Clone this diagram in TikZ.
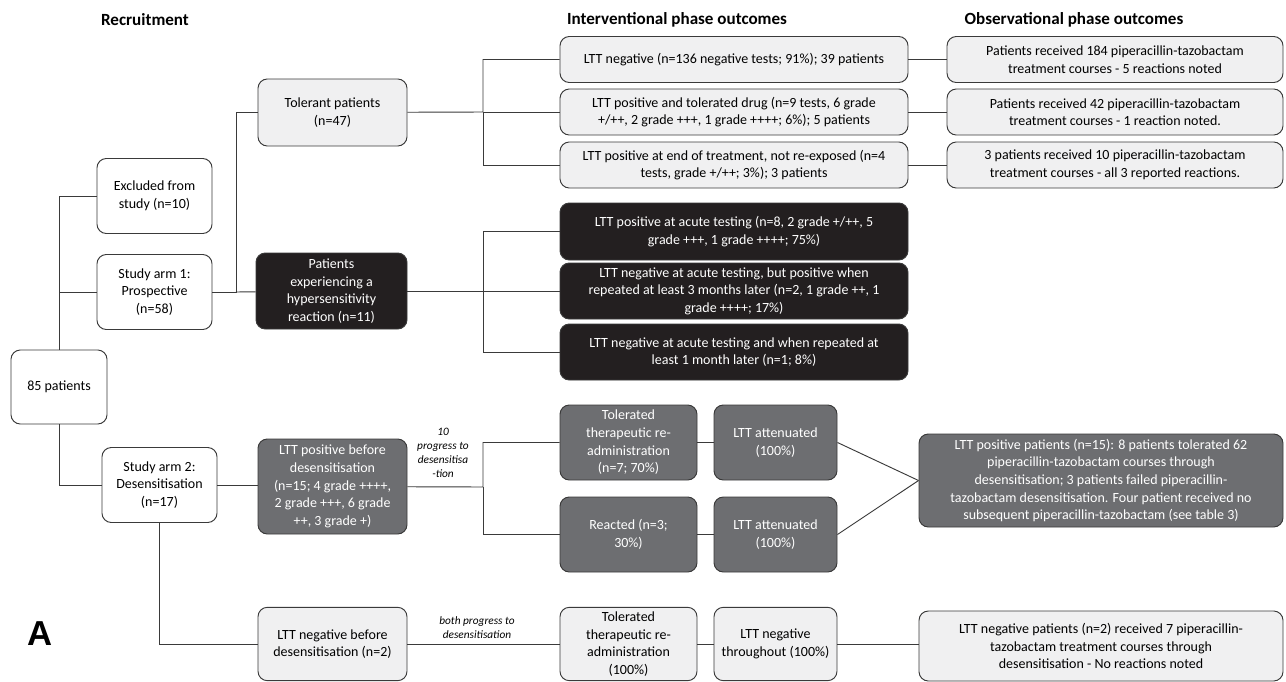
\documentclass[tikz,border=0pt]{standalone}
\usepackage{fontspec}
\setmainfont{Carlito}
\newfontfamily\letterfont{Liberation Sans}
\usetikzlibrary{positioning}

\definecolor{edgegrey}{HTML}{3A3A3A}
\definecolor{paleFill}{HTML}{F0F0F1}
\definecolor{darkFill}{HTML}{231F20}
\definecolor{midFill}{HTML}{6D6E71}

\begin{document}
\begin{tikzpicture}[
  x=0.75pt, y=-0.75pt,
  line width=0.7pt,
  box/.style={draw=edgegrey, rounded corners=7pt, align=center, inner sep=2pt,
    font=\fontsize{10.5pt}{13.2pt}\selectfont},
  whitebox/.style={box, fill=white},
  palebox/.style={box, fill=paleFill},
  darkbox/.style={box, fill=darkFill, text=white},
  midbox/.style={box, fill=midFill, text=white},
  head/.style={font=\fontsize{12.8pt}{15pt}\selectfont\bfseries},
  note/.style={align=center, font=\fontsize{8.5pt}{10.5pt}\selectfont\itshape},
  link/.style={draw=edgegrey}
]
  \useasboundingbox (0,0) rectangle (1286,682);

  % Column titles
  \node[head] (hrec) at (145,20) {Recruitment};
  \node[head] (hint) at (677,20) {Interventional phase outcomes};
  \node[head] (hobs) at (1074,20) {Observational phase outcomes};

  % Recruitment
  \node[whitebox, minimum width=72pt, minimum height=55.5pt] (all) at (59,387) {85 patients};
  \node[whitebox, minimum width=86.25pt, minimum height=56.25pt] (excl) at (154.5,196) {Excluded from\\study (n=10)};
  \node[whitebox, minimum width=86.25pt, minimum height=56.25pt] (arm1) at (154.5,292) {Study arm 1:\\Prospective\\(n=58)};
  \node[whitebox, minimum width=86.25pt, minimum height=56.25pt] (arm2) at (159.5,485) {Study arm 2:\\Desensitisation\\(n=17)};

  % Arm 1 split
  \node[palebox, minimum width=111.75pt, minimum height=50.25pt] (tol) at (332.5,112.5) {Tolerant patients\\(n=47)};
  \node[darkbox, minimum width=113.25pt, minimum height=57pt] (hyp) at (331.5,291) {Patients\\experiencing a\\hypersensitivity\\reaction (n=11)};

  % Tolerant outcomes
  \node[palebox, minimum width=261pt, minimum height=34.5pt] (tneg) at (734,59.5) {LTT negative (n=136 negative tests; 91\%); 39 patients};
  \node[palebox, minimum width=261pt, minimum height=34.5pt] (tpos) at (734,112) {LTT positive and tolerated drug (n=9 tests, 6 grade\\+/++, 2 grade +++, 1 grade ++++; 6\%); 5 patients};
  \node[palebox, minimum width=261pt, minimum height=34.5pt] (tend) at (734,165) {LTT positive at end of treatment, not re-exposed (n=4\\tests, grade +/++; 3\%); 3 patients};

  % Observational outcomes
  \node[palebox, minimum width=252pt, minimum height=34.5pt] (oneg) at (1115,59.5) {Patients received 184 piperacillin-tazobactam\\treatment courses - 5 reactions noted};
  \node[palebox, minimum width=252pt, minimum height=34.5pt] (opos) at (1115,112) {Patients received 42 piperacillin-tazobactam\\treatment courses - 1 reaction noted.};
  \node[palebox, minimum width=252pt, minimum height=34.5pt] (oend) at (1115,165) {3 patients received 10 piperacillin-tazobactam\\treatment courses - all 3 reported reactions.};

  % Hypersensitivity outcomes
  \node[darkbox, minimum width=261pt, minimum height=42.75pt] (hacu) at (734,231.5) {LTT positive at acute testing (n=8, 2 grade +/++, 5\\grade +++, 1 grade ++++; 75\%)};
  \node[darkbox, minimum width=261pt, minimum height=42pt] (hlate) at (734,291) {LTT negative at acute testing, but positive when\\repeated at least 3 months later (n=2, 1 grade ++, 1\\grade ++++; 17\%)};
  \node[darkbox, minimum width=261pt, minimum height=42pt] (hnone) at (734,352) {LTT negative at acute testing and when repeated at\\least 1 month later (n=1; 8\%)};

  % Arm 2 split
  \node[midbox, minimum width=111.75pt, minimum height=71.25pt] (dpos) at (332.5,486.5) {LTT positive before\\desensitisation\\(n=15; 4 grade ++++,\\2 grade +++, 6 grade\\++, 3 grade +)};
  \node[palebox, minimum width=111.75pt, minimum height=55pt] (dneg) at (332.5,644) {LTT negative before\\desensitisation (n=2)};

  \node[midbox, minimum width=102.75pt, minimum height=56.25pt] (ptol) at (628.5,442.5) {Tolerated\\therapeutic re-\\administration\\(n=7; 70\%)};
  \node[midbox, minimum width=102.75pt, minimum height=56.25pt] (preac) at (628.5,534.5) {Reacted (n=3;\\30\%)};
  \node[midbox, minimum width=92.25pt, minimum height=56.25pt] (patt1) at (775.5,442.5) {LTT attenuated\\(100\%)};
  \node[midbox, minimum width=92.25pt, minimum height=56.25pt] (patt2) at (775.5,534.5) {LTT attenuated\\(100\%)};
  \node[midbox, minimum width=273pt, minimum height=69.75pt] (psum) at (1101,480.5) {LTT positive patients (n=15): 8 patients tolerated 62\\piperacillin-tazobactam courses through\\desensitisation; 3 patients failed piperacillin-\\tazobactam desensitisation. Four patient received no\\subsequent piperacillin-tazobactam (see table 3)};

  \node[palebox, minimum width=102.75pt, minimum height=55pt] (ntol) at (628.5,644) {Tolerated\\therapeutic re-\\administration\\(100\%)};
  \node[palebox, minimum width=92.25pt, minimum height=55pt] (nthr) at (775.5,644) {LTT negative\\throughout (100\%)};
  \node[palebox, minimum width=273pt, minimum height=52.5pt] (nsum) at (1101,646) {LTT negative patients (n=2) received 7 piperacillin-\\tazobactam treatment courses through\\desensitisation - No reactions noted};

  % Junctions
  \coordinate (jall) at (59,196);
  \coordinate (jarm1) at (236,292);
  \coordinate (jtol) at (483,112);
  \coordinate (jhyp) at (483,291);
  \coordinate (jdes) at (483,487);

  % --- Links ---
  \path[link] (all) -- (jall) -- (excl);
  \path[link] (all.north |- arm1) -- (arm1);
  \path[link] (all) |- (arm2);
  \path[link] (arm1) -- (jarm1) |- (tol);
  \path[link] (jarm1) -- (hyp);

  \path[link] (tol) -- (jtol) |- (tneg);
  \path[link] (jtol) -- (tpos);
  \path[link] (jtol) |- (tend);
  \path[link] (tneg) -- (oneg);
  \path[link] (tpos) -- (opos);
  \path[link] (tend) -- (oend);

  \path[link] (hyp) -- (jhyp) |- (hacu);
  \path[link] (jhyp) -- (hlate);
  \path[link] (jhyp) |- (hnone);

  \path[link] (arm2.east) -- (dpos.west |- arm2.east);
  \path[link] (dpos) -- (jdes) |- (ptol);
  \path[link] (jdes) |- (preac);
  \path[link] (ptol) -- (patt1);
  \path[link] (preac) -- (patt2);
  \path[link] (patt1.east) -- (psum.west);
  \path[link] (patt2.east) -- (psum.west);

  \path[link] (arm2) |- (dneg);
  \path[link] (dneg) -- (ntol);
  \path[link] (ntol) -- (nthr);
  \path[link] (nthr) -- (nsum.west |- nthr);

  % Italic notes on the links
  \node[note] (ten) at (443,453) {10\\progress to\\desensitisa\\-tion};
  \node[note] (both) at (477,628) {both progress to\\desensitisation};

  % Panel letter
  \node[font=\letterfont\fontsize{26pt}{28pt}\selectfont\bfseries] (pa) at (40,634) {A};
\end{tikzpicture}
\end{document}
